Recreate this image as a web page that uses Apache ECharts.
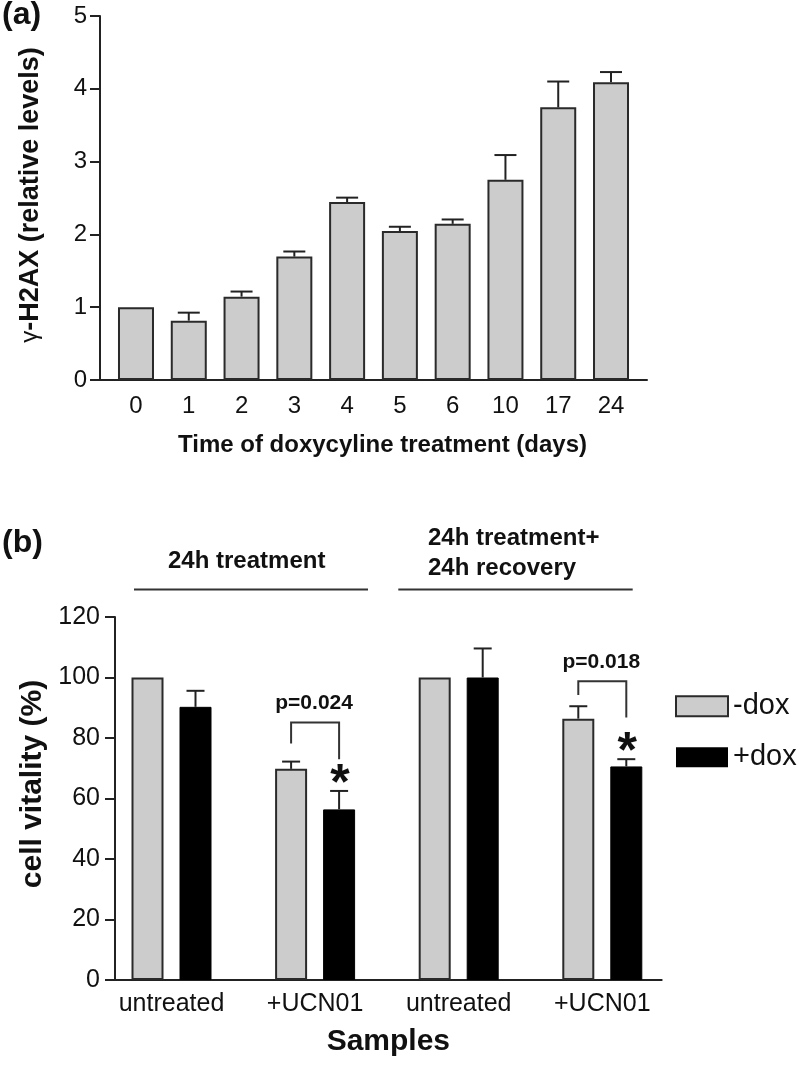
<!DOCTYPE html>
<html><head><meta charset="utf-8">
<script src="https://cdn.jsdelivr.net/npm/echarts@6/dist/echarts.min.js"></script>
<style>html,body{margin:0;padding:0;background:#fff}#c{width:800px;height:1065px}</style>
</head><body><div id="c"></div>
<script>
// ---------- Panel (a) data ----------
const daysCategories = ['0', '1', '2', '3', '4', '5', '6', '10', '17', '24'];
const h2axValues = [1.0, 0.815, 1.145, 1.695, 2.445, 2.045, 2.145, 2.75, 3.745, 4.09];
const h2axErrors = [0, 0.11, 0.07, 0.07, 0.06, 0.06, 0.06, 0.34, 0.355, 0.14];
const h2axTicks = { min: 0, max: 5, interval: 1 };

// ---------- Panel (b) data ----------
const sampleCategories = ['untreated', '+UCN01', 'untreated', '+UCN01'];
const minusDox = [100, 69.8, 100, 86.4];
const minusDoxErr = [0, 2.4, 0, 4.1];
const plusDox = [90.3, 56.4, 100, 70.6];
const plusDoxErr = [5.3, 6.1, 9.6, 2.4];
const vitalityTicks = { min: 0, max: 120, interval: 20 };
const pLabels = [null, 'p=0.024', null, 'p=0.018'];
const bracketTop = [null, 85.1, null, 98.8];
const bracketLeftEnd = [null, 78.2, null, 94.2];
const bracketRightEnd = [null, 73.0, null, 86.8];
const significant = [false, true, false, true];

// ---------- styling ----------
const FONT = 'Liberation Sans';
const AX = '#222';
const GREY = '#cccccc';
const EDGE = '#2a2a2a';
const BW_A = 36;
const BW_B = 32;
const OFF_B = (BW_B + BW_B * 0.5) / 2;

function errorBar(offset, capW) {
  return function (params, api) {
    const cat = api.value(0), v = api.value(1), e = api.value(2);
    if (!e) return null;
    const b = api.coord([cat, v]);
    const t = api.coord([cat, v + e]);
    const x = b[0] + offset;
    const st = { stroke: AX, lineWidth: 2 };
    return {
      type: 'group', children: [
        { type: 'line', shape: { x1: x, y1: b[1], x2: x, y2: t[1] }, style: st },
        { type: 'line', shape: { x1: x - capW / 2, y1: t[1], x2: x + capW / 2, y2: t[1] }, style: st }
      ]
    };
  };
}

const bracketItems = [];
pLabels.forEach((p, i) => { if (p) bracketItems.push({ value: [i, bracketTop[i], bracketLeftEnd[i], bracketRightEnd[i]], label: p }); });
const starItems = [];
significant.forEach((s, i) => { if (s) starItems.push([i, plusDox[i] + plusDoxErr[i]]); });

const chart = echarts.init(document.getElementById('c'));
const hiddenVal = (t) => ({ type: 'value', min: t.min, max: t.max, interval: t.interval, show: false });
const panelLabel = (ch, top) => ({
  text: '{p|(}{b|' + ch + '}{p|)}', left: 2, top: top, padding: 0,
  textStyle: { rich: {
    p: { fontSize: 32, lineHeight: 34, fontFamily: FONT, color: '#111' },
    b: { fontSize: 32, lineHeight: 34, fontWeight: 'bold', fontFamily: FONT, color: '#111' } } }
});

chart.setOption({
  animation: false,
  backgroundColor: '#fff',
  textStyle: { fontFamily: FONT, color: '#111' },
  title: [panelLabel('a', -2), panelLabel('b', 526)],
  legend: {
    orient: 'vertical', left: 670, top: 686.7, itemWidth: 52, itemHeight: 20, itemGap: 22,
    icon: 'rect',
    textStyle: { fontSize: 29, fontFamily: FONT, color: '#111', lineHeight: 20 },
    data: [
      { name: '-dox', itemStyle: { color: GREY, borderColor: EDGE, borderWidth: 2 } },
      { name: '+dox', itemStyle: { color: '#000', borderColor: '#000', borderWidth: 0 } }
    ]
  },
  grid: [
    { left: 109.6, right: 162.6, top: 16, bottom: 685, outerBoundsMode: 'none' },
    { left: 100, right: 153, top: 16, bottom: 685, outerBoundsMode: 'none' },
    { left: 99.7, right: 125.9, top: 617, bottom: 85, outerBoundsMode: 'none' },
    { left: 115, right: 138.3, top: 617, bottom: 85, outerBoundsMode: 'none' }
  ],
  xAxis: [
    { gridIndex: 0, type: 'category', data: daysCategories,
      axisLine: { show: false }, axisTick: { show: false },
      axisLabel: { fontSize: 24, fontFamily: FONT, color: '#111', margin: 14 } },
    { gridIndex: 1, type: 'value', min: 0, max: 1, splitLine: { show: false },
      axisLine: { show: true, lineStyle: { color: AX, width: 2 } }, axisTick: { show: false }, axisLabel: { show: false },
      name: 'Time of doxycyline treatment (days)', nameLocation: 'middle', nameGap: 53,
      nameTextStyle: { fontSize: 24, fontWeight: 'bold', fontFamily: FONT, color: '#111', padding: [0, 0, 0, 18] } },
    { gridIndex: 2, type: 'category', data: sampleCategories,
      axisLine: { show: false }, axisTick: { show: false },
      axisLabel: { fontSize: 25, fontFamily: FONT, color: '#111', margin: 12, interval: 0 } },
    { gridIndex: 3, type: 'value', min: 0, max: 1, splitLine: { show: false },
      axisLine: { show: true, lineStyle: { color: AX, width: 2 } }, axisTick: { show: false }, axisLabel: { show: false },
      name: 'Samples', nameLocation: 'middle', nameGap: 47,
      nameTextStyle: { fontSize: 30, fontWeight: 'bold', fontFamily: FONT, color: '#111' } }
  ],
  yAxis: [
    Object.assign(hiddenVal(h2axTicks), { gridIndex: 0 }),
    { gridIndex: 1, type: 'value', min: h2axTicks.min, max: h2axTicks.max, interval: h2axTicks.interval,
      splitLine: { show: false },
      axisLine: { show: true, lineStyle: { color: AX, width: 2 } },
      axisTick: { show: true, length: 10, lineStyle: { color: AX, width: 2 } },
      axisLabel: { fontSize: 24, fontFamily: FONT, color: '#111', margin: 13 },
      name: '{g|γ}-H2AX (relative levels)', nameLocation: 'middle', nameGap: 56,
      nameTextStyle: { fontSize: 27, fontWeight: 'bold', fontFamily: FONT, color: '#111', padding: [0, 0, 0, 6],
        rich: { g: { fontSize: 24, fontWeight: 'normal', fontFamily: FONT, color: '#111' } } } },
    Object.assign(hiddenVal(vitalityTicks), { gridIndex: 2 }),
    { gridIndex: 3, type: 'value', min: vitalityTicks.min, max: vitalityTicks.max, interval: vitalityTicks.interval,
      splitLine: { show: false },
      axisLine: { show: true, lineStyle: { color: AX, width: 2 } },
      axisTick: { show: true, length: 10, lineStyle: { color: AX, width: 2 } },
      axisLabel: { fontSize: 25, fontFamily: FONT, color: '#111', margin: 15 },
      name: 'cell vitality (%)', nameLocation: 'middle', nameGap: 66,
      nameTextStyle: { fontSize: 30, fontWeight: 'bold', fontFamily: FONT, color: '#111', padding: [0, 0, 0, 29] } }
  ],
  graphic: [
    { type: 'text', x: 246.7, y: 561.7, style: { text: '24h treatment', font: 'bold 24px "Liberation Sans"', fill: '#111', align: 'center', verticalAlign: 'middle' } },
    { type: 'text', x: 428, y: 538.8, style: { text: '24h treatment+', font: 'bold 24px "Liberation Sans"', fill: '#111', align: 'left', verticalAlign: 'middle' } },
    { type: 'text', x: 428, y: 568.8, style: { text: '24h recovery', font: 'bold 24px "Liberation Sans"', fill: '#111', align: 'left', verticalAlign: 'middle' } },
    { type: 'line', shape: { x1: 134, y1: 589.5, x2: 368, y2: 589.5 }, style: { stroke: '#333', lineWidth: 2 } },
    { type: 'line', shape: { x1: 398.3, y1: 589.5, x2: 632.7, y2: 589.5 }, style: { stroke: '#333', lineWidth: 2 } }
  ],
  series: [
    { name: 'γ-H2AX', type: 'bar', xAxisIndex: 0, yAxisIndex: 0, barWidth: BW_A, data: h2axValues,
      itemStyle: { color: GREY, borderColor: EDGE, borderWidth: 2 } },
    { type: 'custom', xAxisIndex: 0, yAxisIndex: 0, z: 3, renderItem: errorBar(0, 22),
      data: daysCategories.map((c, i) => [i, h2axValues[i], h2axErrors[i]]) },
    { name: '-dox', type: 'bar', xAxisIndex: 2, yAxisIndex: 2, barWidth: BW_B, barGap: '50%', data: minusDox,
      itemStyle: { color: GREY, borderColor: EDGE, borderWidth: 2 } },
    { name: '+dox', type: 'bar', xAxisIndex: 2, yAxisIndex: 2, barWidth: BW_B, barGap: '50%', data: plusDox,
      itemStyle: { color: '#000', borderColor: '#000', borderWidth: 1 } },
    { type: 'custom', xAxisIndex: 2, yAxisIndex: 2, z: 3, renderItem: errorBar(-OFF_B, 18),
      data: sampleCategories.map((c, i) => [i, minusDox[i], minusDoxErr[i]]) },
    { type: 'custom', xAxisIndex: 2, yAxisIndex: 2, z: 3, renderItem: errorBar(OFF_B, 18),
      data: sampleCategories.map((c, i) => [i, plusDox[i], plusDoxErr[i]]) },
    { type: 'custom', xAxisIndex: 2, yAxisIndex: 2, z: 3,
      data: bracketItems.map(b => b.value),
      renderItem: function (params, api) {
        const cat = api.value(0);
        const top = api.coord([cat, api.value(1)]);
        const le = api.coord([cat, api.value(2)]);
        const re = api.coord([cat, api.value(3)]);
        const xl = top[0] - OFF_B, xr = top[0] + OFF_B;
        return { type: 'group', children: [
          { type: 'polyline', shape: { points: [[xl, le[1]], [xl, top[1]], [xr, top[1]], [xr, re[1]]] },
            style: { stroke: '#333', lineWidth: 2, fill: null } },
          { type: 'text', style: { text: bracketItems[params.dataIndex].label, x: top[0] - 1, y: top[1] - 19,
            align: 'center', verticalAlign: 'middle', font: 'bold 21px "Liberation Sans"', fill: '#111' } }
        ] };
      } },
    { type: 'custom', xAxisIndex: 2, yAxisIndex: 2, z: 3, data: starItems,
      renderItem: function (params, api) {
        const p = api.coord([api.value(0), api.value(1)]);
        return { type: 'text', style: { text: '*', x: p[0] + OFF_B + 1, y: p[1] - 6, align: 'center', verticalAlign: 'middle',
          font: 'bold 50px "Liberation Sans"', fill: '#111' } };
      } }
  ]
});
</script>
</body></html>
